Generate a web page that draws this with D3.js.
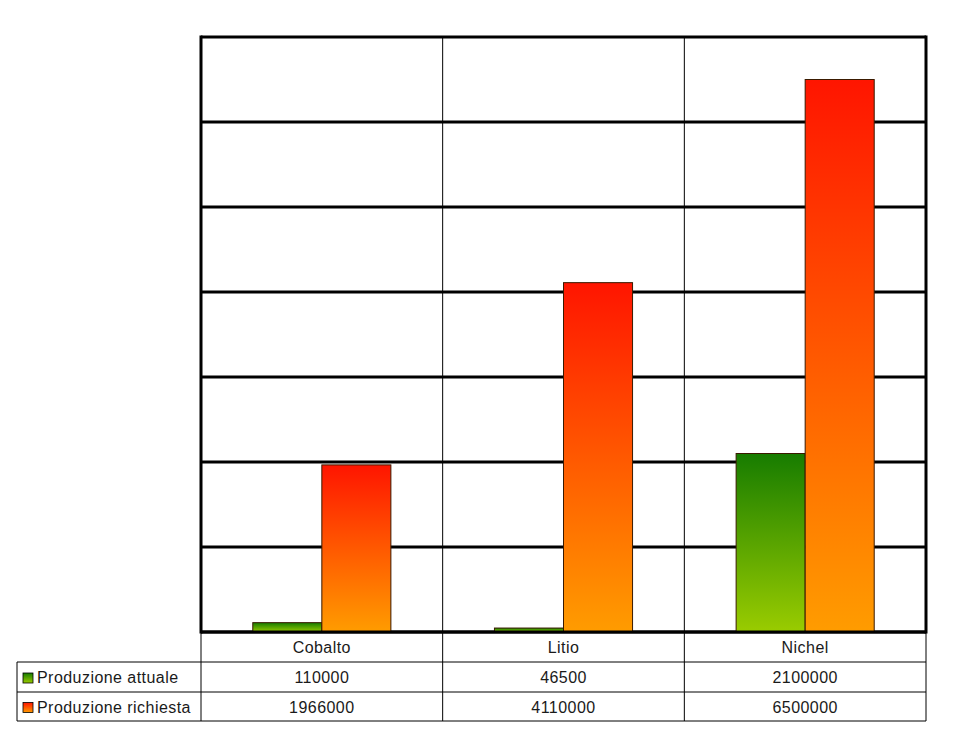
<!DOCTYPE html>
<html>
<head>
<style>
body { margin: 0; background: #fff; }
text { font-family: "Liberation Sans", Arial, sans-serif; font-size: 16px; letter-spacing: 0.45px; fill: #1a1a1a; }
</style>
<script src="https://d3js.org/d3.v7.min.js"></script>
</head>
<body>
<svg id="chart" width="962" height="729"></svg>
<script>
var categories = ["Cobalto", "Litio", "Nichel"]
var seriesNames = ["Produzione attuale", "Produzione richiesta"]
var attuale = [110000, 46500, 2100000]
var richiesta = [1966000, 4110000, 6500000]
var yTicks = [0, 1000000, 2000000, 3000000, 4000000, 5000000, 6000000, 7000000]

var plotLeft = 201, plotRight = 926, plotTop = 37, plotBottom = 632
var rowH = [632, 662, 692, 721]
var legendLeft = 17

var svg = d3.select("#chart")

var defs = svg.append("defs")
var grads = [["gGreen", "#177c00", "#9acc00"], ["gOrange", "#ff1500", "#ff9c00"]]
grads.forEach(function(g){
    var lg = defs.append("linearGradient")
                 .attr("id", g[0])
                 .attr("x1", 0).attr("y1", 0)
                 .attr("x2", 0).attr("y2", 1)
    lg.append("stop").attr("offset", "0%").attr("stop-color", g[1])
    lg.append("stop").attr("offset", "100%").attr("stop-color", g[2])
})

var xScale = d3.scaleBand()
               .domain(categories)
               .range([plotLeft, plotRight])

var subScale = d3.scaleBand()
                 .domain(seriesNames)
                 .range([0, xScale.bandwidth()])
                 .paddingOuter(0.75)

var yScale = d3.scaleLinear()
               .domain([0, d3.max(yTicks)])
               .range([plotBottom, plotTop])

function hline(x1, x2, y, w){
    svg.append("line").attr("x1", x1).attr("x2", x2).attr("y1", y).attr("y2", y)
       .attr("stroke", "#000").attr("stroke-width", w || 1)
}
function vline(x, y1, y2, w){
    svg.append("line").attr("x1", x).attr("x2", x).attr("y1", y1).attr("y2", y2)
       .attr("stroke", "#000").attr("stroke-width", w || 1)
}

// vertical category separators (thin), through the table
categories.slice(1).forEach(function(d){
    vline(xScale(d), plotTop, rowH[3])
})

// table borders
vline(plotLeft, plotBottom, rowH[3])
vline(plotRight, plotBottom, rowH[3])
vline(legendLeft, rowH[1], rowH[3])
hline(legendLeft, plotRight, rowH[1])
hline(legendLeft, plotRight, rowH[2])
hline(legendLeft, plotRight, rowH[3])

// gridlines
svg.selectAll("line.grid")
   .data(yTicks)
   .enter()
   .append("line")
   .attr("class", "grid")
   .attr("x1", plotLeft)
   .attr("x2", plotRight)
   .attr("y1", function(d){ return yScale(d) })
   .attr("y2", function(d){ return yScale(d) })
   .attr("stroke", "#000")
   .attr("stroke-width", 3)

// plot side borders
vline(plotLeft, plotTop - 1.5, plotBottom + 1.5, 3)
vline(plotRight, plotTop - 1.5, plotBottom + 1.5, 3)

// bars
var series = [
    {name: seriesNames[0], values: attuale, fill: "url(#gGreen)"},
    {name: seriesNames[1], values: richiesta, fill: "url(#gOrange)"}
]

series.forEach(function(s){
    svg.selectAll(null)
       .data(categories)
       .enter()
       .append("rect")
       .attr("x", function(d){ return xScale(d) + subScale(s.name) })
       .attr("width", subScale.bandwidth())
       .attr("y", function(d, i){ return yScale(s.values[i]) })
       .attr("height", function(d, i){ return plotBottom - yScale(s.values[i]) })
       .attr("fill", s.fill)
       .attr("stroke", "#3a1a00")
       .attr("stroke-width", 1)
})

// redraw baseline over bar bottoms
hline(plotLeft, plotRight, plotBottom, 3)

// category labels
svg.selectAll("text.cat")
   .data(categories)
   .enter()
   .append("text")
   .attr("x", function(d){ return xScale(d) + xScale.bandwidth() / 2 })
   .attr("y", (rowH[0] + rowH[1]) / 2 + 6)
   .attr("text-anchor", "middle")
   .text(function(d){ return d })

// data rows + legend
series.forEach(function(s, r){
    var cy = (rowH[r + 1] + rowH[r + 2]) / 2
    svg.selectAll(null)
       .data(s.values)
       .enter()
       .append("text")
       .attr("x", function(d, i){ return xScale(categories[i]) + xScale.bandwidth() / 2 })
       .attr("y", cy + 6)
       .attr("text-anchor", "middle")
       .text(function(d){ return d })

    svg.append("rect")
       .attr("x", 23)
       .attr("y", cy - 4)
       .attr("width", 10)
       .attr("height", 10)
       .attr("fill", s.fill)
       .attr("stroke", "#000")
       .attr("stroke-width", 0.8)

    svg.append("text")
       .attr("x", 37)
       .attr("y", cy + 6)
       .text(s.name)
})
</script>
</body>
</html>
